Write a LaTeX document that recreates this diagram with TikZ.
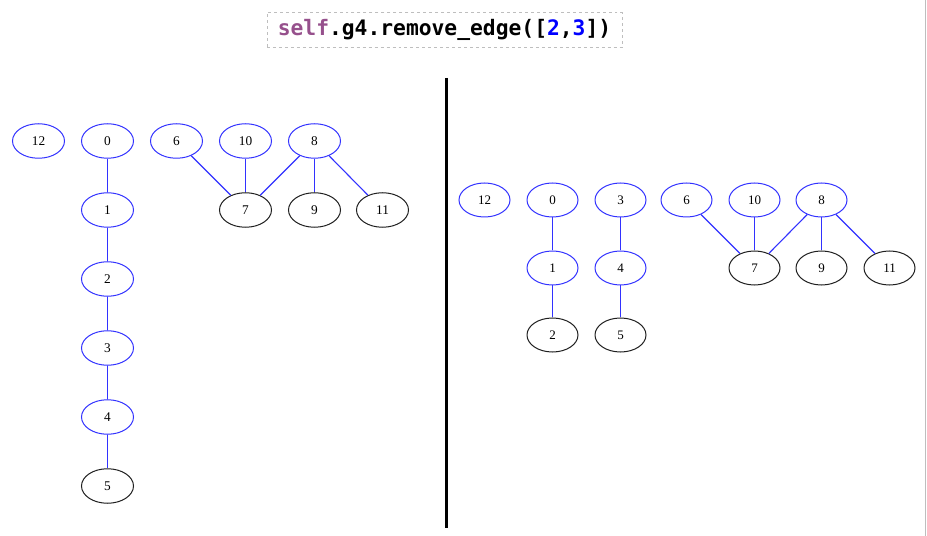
\documentclass[tikz,border=0pt]{standalone}
\usepackage{fontspec}
\setmainfont{Liberation Serif}
\newfontfamily\codefont{DejaVu Sans Mono}
\usetikzlibrary{shapes.geometric}
\definecolor{gvblue}{RGB}{50,50,255}
\definecolor{gvblack}{RGB}{30,30,30}
\definecolor{selfpurple}{RGB}{150,80,140}
\definecolor{codeblue}{RGB}{0,0,255}
\definecolor{framegray}{RGB}{190,190,190}
\tikzset{
  bnode/.style={ellipse, draw=gvblue, line width=1bp, minimum width=52bp, minimum height=34.5bp, inner sep=0pt, font=\fontsize{13.3bp}{15bp}\selectfont, text=black},
  rbnode/.style={bnode, minimum width=51bp, minimum height=34bp, font=\fontsize{13bp}{15bp}\selectfont},
  knode/.style={bnode, draw=gvblack},
  rknode/.style={rbnode, draw=gvblack},
  edgeline/.style={draw=gvblue, line width=1.1bp},
}
\begin{document}
\begin{tikzpicture}[x=1bp,y=-1bp]
\useasboundingbox (0,0) rectangle (927,536);
% title
\node[draw=framegray, dashed, line width=0.8bp, minimum width=355bp, minimum height=35bp, inner sep=0pt, font=\codefont\bfseries\fontsize{21.3bp}{24bp}\selectfont] (title) at (444.5,29.8)
  {\textcolor{selfpurple}{self}.g4.remove\_edge([\textcolor{codeblue}{2},\textcolor{codeblue}{3}])};
% divider
\coordinate (dtop) at (446.5,78);
\coordinate (dbot) at (446.5,527.5);
\draw[line width=3bp, black] (dtop) -- (dbot);
% right frame line
\coordinate (rtop) at (925.8,0);
\coordinate (rbot) at (925.8,536);
\draw[line width=1.2bp, framegray] (rtop) -- (rbot);
% left graph
\node[bnode] (L12) at (38.5,141) {12};
\node[bnode] (L0) at (107.5,141) {0};
\node[bnode] (L6) at (176.5,141) {6};
\node[bnode] (L10) at (245.5,141) {10};
\node[bnode] (L8) at (314.5,141) {8};
\node[bnode] (L1) at (107.5,210) {1};
\node[knode] (L7) at (245.5,210) {7};
\node[knode] (L9) at (314.5,210) {9};
\node[knode] (L11) at (382.5,210) {11};
\node[bnode] (L2) at (107.5,279) {2};
\node[bnode] (L3) at (107.5,348) {3};
\node[bnode] (L4) at (107.5,417) {4};
\node[knode] (L5) at (107.5,486) {5};
\draw[edgeline] (L0) -- (L1);
\draw[edgeline] (L1) -- (L2);
\draw[edgeline] (L2) -- (L3);
\draw[edgeline] (L3) -- (L4);
\draw[edgeline] (L4) -- (L5);
\draw[edgeline] (L6) -- (L7);
\draw[edgeline] (L10) -- (L7);
\draw[edgeline] (L8) -- (L7);
\draw[edgeline] (L8) -- (L9);
\draw[edgeline] (L8) -- (L11);
% right graph
\node[rbnode] (R12) at (484.5,200) {12};
\node[rbnode] (R0) at (552.5,200) {0};
\node[rbnode] (R3) at (620.5,200) {3};
\node[rbnode] (R6) at (686.5,200) {6};
\node[rbnode] (R10) at (754.5,200) {10};
\node[rbnode] (R8) at (821.5,200) {8};
\node[rbnode] (R1) at (552.5,268) {1};
\node[rbnode] (R4) at (620.5,268) {4};
\node[rknode] (R7) at (754.5,268) {7};
\node[rknode] (R9) at (821.5,268) {9};
\node[rknode] (R11) at (889.5,268) {11};
\node[rknode] (R2) at (552.5,335) {2};
\node[rknode] (R5) at (620.5,335) {5};
\draw[edgeline] (R0) -- (R1);
\draw[edgeline] (R1) -- (R2);
\draw[edgeline] (R3) -- (R4);
\draw[edgeline] (R4) -- (R5);
\draw[edgeline] (R6) -- (R7);
\draw[edgeline] (R10) -- (R7);
\draw[edgeline] (R8) -- (R7);
\draw[edgeline] (R8) -- (R9);
\draw[edgeline] (R8) -- (R11);
\end{tikzpicture}
\end{document}
